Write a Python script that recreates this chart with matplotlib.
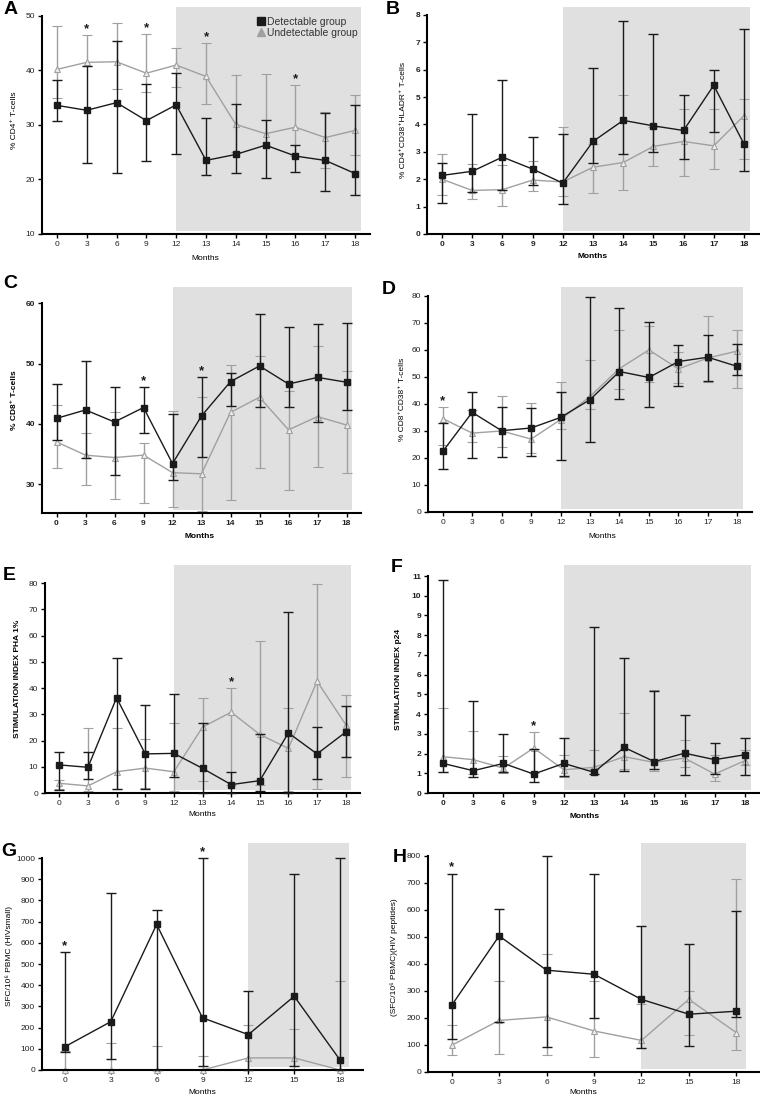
import matplotlib
matplotlib.use("Agg")
from matplotlib import pyplot as plt
import numpy as np

plt.rcParams['font.family'] = ['Liberation Sans', 'DejaVu Sans']

months_long = [0, 3, 6, 9, 12, 13, 14, 15, 16, 17, 18]
months_short = [0, 3, 6, 9, 12, 15, 18]

# A - % CD4+ T-cells
a_det = [33.6, 32.7, 34.1, 30.8, 33.7, 23.5, 24.6, 26.3, 24.3, 23.5, 21.1]
a_det_hi = [38.2, 40.9, 45.4, 37.5, 39.6, 31.2, 33.9, 31.0, 26.3, 32.2, 33.7]
a_det_lo = [30.7, 23.0, 21.2, 23.4, 24.7, 20.9, 21.2, 20.3, 21.4, 17.9, 17.1]
a_und = [40.2, 41.5, 41.6, 39.5, 41.0, 38.9, 30.1, 28.4, 29.6, 27.7, 29.0]
a_und_hi = [48.2, 46.5, 48.7, 46.7, 44.1, 45.0, 39.2, 39.3, 37.3, 32.3, 35.5]
a_und_lo = [34.9, 40.9, 36.6, 36.1, 36.9, 33.8, 25.0, 26.1, 24.3, 22.1, 24.5]
a_star = [3, 9, 13, 16]

# B - % CD4+CD38+HLADR+ T-cells
b_det = [2.14, 2.29, 2.81, 2.37, 1.86, 3.38, 4.15, 3.95, 3.78, 5.43, 3.29]
b_det_hi = [2.61, 4.38, 5.63, 3.56, 3.65, 6.08, 7.79, 7.29, 5.08, 5.98, 7.48]
b_det_lo = [1.13, 1.52, 1.59, 1.80, 1.09, 2.59, 2.92, 2.98, 2.74, 3.71, 2.29]
b_und = [2.00, 1.59, 1.62, 1.97, 1.90, 2.44, 2.61, 3.20, 3.38, 3.22, 4.32]
b_und_hi = [2.92, 2.57, 2.53, 2.65, 3.89, 3.28, 5.07, 3.90, 4.56, 4.56, 4.94]
b_und_lo = [1.43, 1.28, 1.01, 1.56, 1.40, 1.50, 1.62, 2.50, 2.13, 2.38, 2.74]
b_star = []

# C - % CD8+ T-cells
c_det = [40.9, 42.3, 40.3, 42.7, 33.4, 41.3, 47.0, 49.6, 46.6, 47.7, 46.9]
c_det_hi = [46.6, 50.5, 46.1, 46.1, 41.7, 47.7, 48.4, 58.2, 56.1, 56.5, 56.7]
c_det_lo = [37.3, 34.3, 31.5, 38.5, 30.6, 34.5, 43.0, 42.8, 42.8, 40.3, 42.3]
c_und = [37.0, 34.8, 34.4, 34.8, 31.9, 31.7, 41.9, 44.4, 39.0, 41.2, 39.8]
c_und_hi = [43.1, 38.5, 42.0, 36.8, 42.2, 44.5, 49.7, 51.3, 45.4, 52.9, 48.7]
c_und_lo = [32.7, 29.9, 27.6, 26.9, 26.2, 25.5, 27.4, 32.7, 29.0, 32.9, 31.8]
c_star = [9, 13]

# D - % CD8+CD38+ T-cells
d_det = [22.4, 36.9, 30.1, 31.1, 35.0, 41.6, 52.0, 49.8, 55.7, 57.3, 53.9]
d_det_hi = [33.0, 44.4, 39.0, 38.5, 44.3, 79.5, 75.5, 70.2, 61.9, 65.5, 62.3]
d_det_lo = [16.0, 19.9, 20.2, 20.6, 19.4, 25.9, 42.0, 38.7, 46.7, 48.6, 50.8]
d_und = [34.6, 29.2, 30.0, 27.0, 34.2, 42.8, 53.1, 60.0, 53.0, 57.0, 59.6]
d_und_hi = [38.7, 37.9, 42.8, 40.3, 48.0, 56.3, 67.4, 68.9, 59.4, 72.4, 67.2]
d_und_lo = [24.9, 26.1, 23.9, 22.0, 30.8, 38.1, 45.5, 48.0, 47.7, 48.3, 45.9]
d_star = [0]

# E - stimulation index PHA 1%
e_det = [10.7, 9.8, 36.3, 14.9, 15.1, 9.4, 3.2, 4.7, 22.9, 14.9, 23.2]
e_det_hi = [15.8, 15.8, 51.4, 33.6, 37.8, 26.7, 7.9, 22.3, 69.0, 25.1, 33.1]
e_det_lo = [1.1, 5.3, 1.4, 1.5, 6.0, 0.0, 0.0, 0.9, 0.0, 5.3, 13.6]
e_und = [3.7, 2.7, 8.1, 9.5, 8.1, 25.1, 30.8, 22.3, 17.0, 42.6, 26.1]
e_und_hi = [5.0, 24.7, 24.7, 20.4, 26.6, 36.1, 40.1, 58.1, 32.3, 79.5, 37.3]
e_und_lo = [1.5, 0.9, 1.4, 1.9, 0.9, 4.5, 3.0, 3.2, 0.9, 1.5, 6.0]
e_star = [14]

# F - stimulation index p24
f_det = [1.50, 1.13, 1.50, 0.96, 1.50, 1.05, 2.31, 1.59, 2.02, 1.69, 1.94]
f_det_hi = [10.78, 4.64, 2.98, 2.25, 2.78, 8.43, 6.83, 5.18, 3.95, 2.56, 2.78]
f_det_lo = [1.08, 0.83, 1.05, 0.54, 0.85, 0.96, 1.10, 1.21, 0.93, 0.96, 0.93]
f_und = [1.84, 1.69, 1.26, 2.28, 1.18, 1.30, 1.84, 1.55, 1.77, 0.96, 1.64]
f_und_hi = [4.33, 3.12, 1.90, 3.07, 1.92, 2.20, 4.08, 5.23, 2.70, 1.94, 2.19]
f_und_lo = [1.05, 0.96, 1.00, 1.00, 0.79, 1.20, 1.21, 1.13, 1.30, 0.59, 1.43]
f_star = [9]

# G - SFC/10^6 PBMC (HIVsmall)
g_det = [110, 228, 687, 246, 167, 348, 47]
g_det_hi = [556, 836, 756, 1000, 375, 926, 1000]
g_det_lo = [83, 52, 0, 20, 0, 20, 0]
g_und = [0, 0, 0, 0, 57, 57, 0]
g_und_hi = [88, 128, 112, 68, 214, 194, 419]
g_und_lo = [0, 0, 0, 0, 0, 0, 0]
g_star = [0, 9]

# H - SFC/10^6 PBMC (HIV peptides)
h_det = [247, 504, 377, 362, 269, 214, 225]
h_det_hi = [735, 602, 800, 735, 541, 475, 596]
h_det_lo = [123, 185, 93, 200, 90, 98, 204]
h_und = [99, 191, 204, 152, 117, 269, 146]
h_und_hi = [173, 336, 438, 337, 253, 300, 716]
h_und_lo = [62, 68, 62, 56, 90, 136, 83]
h_star = [0]

W, H = 760, 1097
fig = plt.figure(figsize=(W / 100, H / 100), dpi=100)

BLACK = '#1a1a1a'
GREY = '#a0a0a0'
SHADE = '#e0e0e0'

# letter, months, data, stars, ylabel, yticks, ylim, box (left, right, top, bottom px),
# ylabel x px, xlabel (x, y px), bold labels, letter position px
panels = [
    ('A', months_long, (a_det, a_det_lo, a_det_hi, a_und, a_und_lo, a_und_hi), a_star,
     '% CD4\u207a T-cells', np.arange(10, 51, 10), (10, 51.65), (42, 370, 7, 234),
     15, (205, 258), False, (11, 10)),
    ('B', months_long, (b_det, b_det_lo, b_det_hi, b_und, b_und_lo, b_und_hi), b_star,
     '% CD4\u207aCD38\u207aHLADR\u207a T-cells', np.arange(0, 9, 1), (0, 8.29), (427, 759, 7, 234),
     403, (593, 257), True, (393, 10)),
    ('C', months_long, (c_det, c_det_lo, c_det_hi, c_und, c_und_lo, c_und_hi), c_star,
     '% CD8\u207a T-cells', np.arange(30, 61, 10), (25.2, 62.7), (42, 361, 287, 513),
     15, (200, 537), True, (10, 283)),
    ('D', months_long, (d_det, d_det_lo, d_det_hi, d_und, d_und_lo, d_und_hi), d_star,
     '% CD8\u207aCD38\u207a T-cells', np.arange(0, 81, 10), (0, 83.3), (428, 752, 287, 512),
     402, (602, 536), False, (389, 290)),
    ('E', months_long, (e_det, e_det_lo, e_det_hi, e_und, e_und_lo, e_und_hi), e_star,
     'STIMULATION INDEX PHA 1%', np.arange(0, 81, 10), (0, 86.9), (45, 360, 565, 793),
     18, (202, 815), False, (9, 575)),
    ('F', months_long, (f_det, f_det_lo, f_det_hi, f_und, f_und_lo, f_und_hi), f_star,
     'STIMULATION INDEX p24', np.arange(0, 12, 1), (0, 11.56), (428, 760, 565, 793),
     398, (585, 817), True, (397, 567)),
    ('G', months_short, (g_det, g_det_lo, g_det_hi, g_und, g_und_lo, g_und_hi), g_star,
     'SFC/10\u2076 PBMC (HIVsmall)', np.arange(0, 1001, 100), (0, 1071), (42, 363, 843, 1070),
     9, (202, 1093), False, (9, 851)),
    ('H', months_short, (h_det, h_det_lo, h_det_hi, h_und, h_und_lo, h_und_hi), h_star,
     '(SFC/10\u2076 PBMC)(HIV peptides)', np.arange(0, 801, 100), (0, 848), (428, 760, 843, 1072),
     394, (583, 1093), False, (400, 858)),
]

for (letter, months, vals, stars, ylab, yticks, ylim, box, ylx, xl, bold, lpos) in panels:
    det, det_lo, det_hi, und, und_lo, und_hi = [np.array(v, dtype=float) for v in vals]
    l, r, t, b = box
    ax = fig.add_axes([l / W, 1 - b / H, (r - l) / W, (b - t) / H])
    x = np.arange(len(months))

    start = months.index(12)
    ax.axvspan(start, len(months) - 1 + 0.2, ymin=0.012, ymax=1, color=SHADE, lw=0, zorder=0)

    ax.errorbar(x, und, yerr=[und - und_lo, und_hi - und], color=GREY, ecolor=GREY,
                lw=1, elinewidth=1, capsize=3.5, capthick=1, marker='^', ms=5,
                mfc='#eeeeee', mec=GREY, mew=0.8, zorder=2, clip_on=False)
    ax.errorbar(x, det, yerr=[det - det_lo, det_hi - det], color=BLACK, ecolor=BLACK,
                lw=1, elinewidth=1, capsize=3.5, capthick=1, marker='s', ms=4.8,
                mfc=BLACK, mec=BLACK, zorder=3, clip_on=False)

    for m in stars:
        i = months.index(m)
        top = max(det_hi[i], und_hi[i])
        ax.annotate('*', xy=(i, top), xytext=(0, 0), textcoords='offset points',
                    ha='center', va='bottom', fontsize=9.5, fontweight='bold', color=BLACK)

    ax.set_xlim(-0.5, len(months) - 0.5)
    ax.set_ylim(*ylim)
    ax.set_xticks(x)
    ax.set_xticklabels([str(m) for m in months])
    ax.set_yticks(yticks)
    ax.spines['top'].set_visible(False)
    ax.spines['right'].set_visible(False)
    ax.spines['left'].set_linewidth(1.5)
    ax.spines['bottom'].set_linewidth(1.5)
    ax.spines['left'].set_bounds(ylim[0], yticks[-1])
    ax.patch.set_alpha(0)
    ax.tick_params(direction='out', length=3, width=1, labelsize=6, pad=2,
                   labelcolor='#222222')
    if bold:
        for lab in ax.get_xticklabels() + ax.get_yticklabels():
            lab.set_fontweight('bold')

    weight = 'bold' if bold else 'normal'
    ax.set_ylabel(ylab, fontsize=6, fontweight='bold' if letter in 'CEF' else 'normal')
    ax.yaxis.set_label_coords(ylx / W, 1 - ((t + b) / 2) / H, transform=fig.transFigure)
    ax.yaxis.label.set_va('center')
    ax.set_xlabel('Months', fontsize=6, fontweight=weight)
    ax.xaxis.set_label_coords(xl[0] / W, 1 - xl[1] / H, transform=fig.transFigure)
    ax.xaxis.label.set_va('center')

    fig.text(lpos[0] / W, 1 - lpos[1] / H, letter, fontsize=14, fontweight='bold',
             ha='center', va='center')

    if letter == 'A':
        h1 = plt.Line2D([], [], color=BLACK, marker='s', ls='none', ms=6)
        h2 = plt.Line2D([], [], color=GREY, marker='^', ls='none', ms=6)
        ax.legend([h1, h2], ['Detectable group', 'Undetectable group'], loc='upper right',
                  bbox_to_anchor=(0.985, 0.99), frameon=False, fontsize=7.5,
                  handlelength=0.8, handletextpad=0.2, labelspacing=0.1, borderpad=0.2,
                  labelcolor='#333333')

plt.savefig('out.png', dpi=100)
